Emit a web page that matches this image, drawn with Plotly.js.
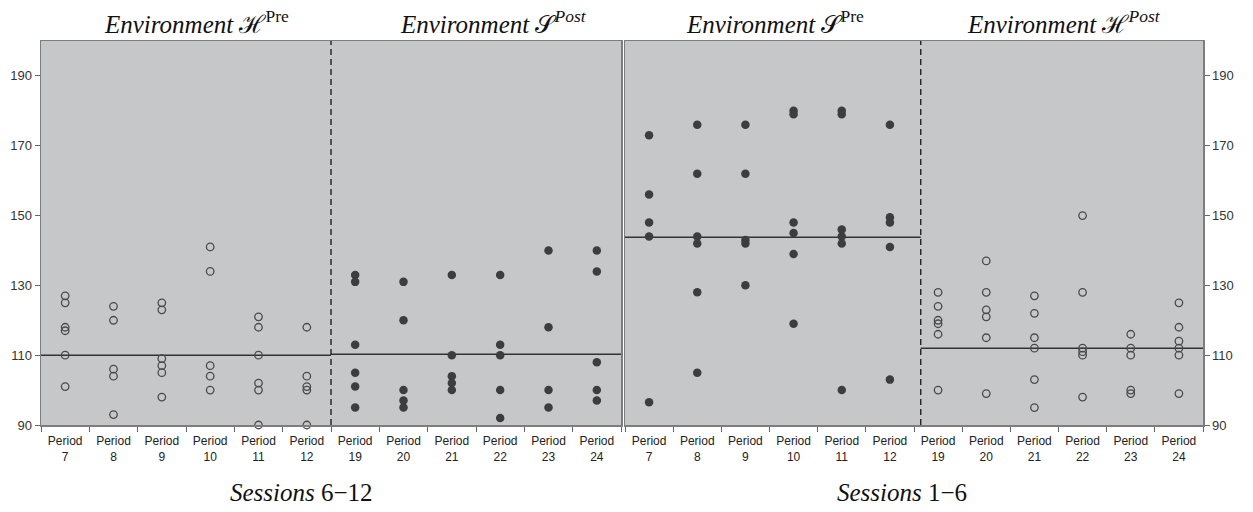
<!DOCTYPE html>
<html>
<head>
<meta charset="utf-8">
<script src="https://cdn.plot.ly/plotly-3.0.1.min.js"></script>
<style>html,body{margin:0;padding:0;background:#fff;}#chart{width:1253px;height:512px;}</style>
</head>
<body>
<div id="chart"></div>
<script>
// Categories (period numbers) for each half of a panel
const periodsPre = [7, 8, 9, 10, 11, 12];
const periodsPost = [19, 20, 21, 22, 23, 24];

// Sessions 6-12 (left panel)
const hPreLeft = [
  [127, 125, 118, 117, 110, 101],
  [124, 120, 106, 104, 93],
  [125, 123, 109, 107, 105, 98],
  [141, 134, 107, 104, 100],
  [121, 118, 110, 102, 100, 90],
  [118, 104, 101, 100, 90]
];
const sPostLeft = [
  [133, 131, 113, 105, 101, 95],
  [131, 120, 100, 97, 95],
  [133, 110, 104, 102, 100],
  [133, 113, 110, 100, 92],
  [140, 118, 100, 95],
  [140, 134, 108, 100, 97]
];
// Sessions 1-6 (right panel)
const sPreRight = [
  [173, 156, 148, 144, 96.5],
  [176, 162, 144, 142, 128, 105],
  [176, 162, 143, 142, 130],
  [180, 179, 148, 145, 139, 119],
  [180, 179, 146, 144, 142, 100],
  [176, 149.5, 148, 141, 103]
];
const hPostRight = [
  [128, 124, 120, 119, 116, 100],
  [137, 128, 123, 121, 115, 99],
  [127, 122, 115, 112, 103, 95],
  [150, 128, 112, 111, 110, 98],
  [116, 112, 110, 100, 99],
  [125, 118, 114, 112, 110, 99]
];
// Mean levels drawn as horizontal lines
const meanLeftPre = 110;
const meanLeftPost = 110.3;
const meanRightPre = 143.8;
const meanRightPost = 112;

const yTicks = [90, 110, 130, 150, 170, 190];

const allPeriods = periodsPre.concat(periodsPost);
const tickText = allPeriods.map(p => 'Period<br>' + p);
const tickVals = allPeriods.map((p, i) => i);

function pts(groups, offset) {
  const x = [], y = [];
  groups.forEach((g, i) => g.forEach(v => { x.push(i + offset); y.push(v); }));
  return {x, y};
}

const openMarker = {symbol: 'circle-open', size: 7.5, color: '#4a4a4a', line: {width: 1.3, color: '#4a4a4a'}};
const fillMarker = {symbol: 'circle', size: 8.5, color: '#3d3d3f', line: {width: 0}};
const lineStyle = {color: '#333', width: 1.5};

const a = pts(hPreLeft, 0), b = pts(sPostLeft, 6), c = pts(sPreRight, 0), d = pts(hPostRight, 6);
const splitR = 5.64;

const traces = [
  {x: [-0.5, 5.5], y: [meanLeftPre, meanLeftPre], mode: 'lines', line: lineStyle, xaxis: 'x', yaxis: 'y', hoverinfo: 'skip'},
  {x: [5.5, 11.5], y: [meanLeftPost, meanLeftPost], mode: 'lines', line: lineStyle, xaxis: 'x', yaxis: 'y', hoverinfo: 'skip'},
  {x: [-0.5, splitR], y: [meanRightPre, meanRightPre], mode: 'lines', line: lineStyle, xaxis: 'x2', yaxis: 'y2', hoverinfo: 'skip'},
  {x: [splitR, 11.5], y: [meanRightPost, meanRightPost], mode: 'lines', line: lineStyle, xaxis: 'x2', yaxis: 'y2', hoverinfo: 'skip'},
  {x: a.x, y: a.y, mode: 'markers', marker: openMarker, xaxis: 'x', yaxis: 'y', cliponaxis: false},
  {x: b.x, y: b.y, mode: 'markers', marker: fillMarker, xaxis: 'x', yaxis: 'y', cliponaxis: false},
  {x: c.x, y: c.y, mode: 'markers', marker: fillMarker, xaxis: 'x2', yaxis: 'y2', cliponaxis: false},
  {x: d.x, y: d.y, mode: 'markers', marker: openMarker, xaxis: 'x2', yaxis: 'y2', cliponaxis: false}
];

const sansFam = "Arial, 'Liberation Sans', Helvetica, sans-serif";
const serifFam = "'Times New Roman', 'Liberation Serif', Times, serif";

const xBase = {
  range: [-0.5, 11.5], tickmode: 'array', tickvals: tickVals, ticktext: tickText,
  ticks: '', showgrid: false, zeroline: false, showline: true, mirror: true,
  linecolor: '#7d7d7d', linewidth: 1.5,
  tickfont: {family: sansFam, size: 12, color: '#222'},
  minor: {tick0: -0.5, dtick: 1, ticks: 'outside', ticklen: 5, tickcolor: '#666', tickwidth: 1},
  ticklabelstandoff: 4
};
const yBase = {
  range: [90, 200], tickmode: 'array', tickvals: yTicks, ticks: 'outside', ticklen: 5,
  tickcolor: '#666', showgrid: false, zeroline: false, showline: true, mirror: true,
  linecolor: '#7d7d7d', linewidth: 1.5,
  tickfont: {family: sansFam, size: 13, color: '#333'}
};

const W = 1162, ML = 41;
const px = v => (v - ML) / W;
const titleFont = {family: serifFam, size: 25, color: '#111'};

function titleAnn(text, xpx) {
  return {text: text, xref: 'paper', yref: 'paper', x: px(xpx), y: 1.05, xanchor: 'center', yanchor: 'middle', showarrow: false, font: titleFont};
}

const layout = {
  width: 1253, height: 512,
  margin: {l: 41, r: 50, t: 41, b: 87},
  paper_bgcolor: '#fff', plot_bgcolor: '#c6c7c9',
  showlegend: false,
  xaxis: Object.assign({}, xBase, {domain: [0, px(621)], anchor: 'y'}),
  yaxis: Object.assign({}, yBase, {anchor: 'x', side: 'left'}),
  xaxis2: Object.assign({}, xBase, {domain: [px(625), 1], anchor: 'y2'}),
  yaxis2: Object.assign({}, yBase, {anchor: 'x2', side: 'right'}),
  shapes: [
    {type: 'line', xref: 'x', yref: 'y domain', x0: 5.5, x1: 5.5, y0: 0, y1: 1, line: {color: '#222', width: 1.4, dash: '6px,4px'}},
    {type: 'line', xref: 'x2', yref: 'y2 domain', x0: splitR, x1: splitR, y0: 0, y1: 1, line: {color: '#222', width: 1.4, dash: '6px,4px'}}
  ],
  annotations: [
    titleAnn('<i>Environment</i> ℋ<sup>Pre</sup>', 196),
    titleAnn('<i>Environment</i> 𝒮<sup><i>Post</i></sup>', 493),
    titleAnn('<i>Environment</i> 𝒮<sup>Pre</sup>', 775),
    titleAnn('<i>Environment</i> ℋ<sup><i>Post</i></sup>', 1064),
    {text: '<i>Sessions</i> 6−12', xref: 'paper', yref: 'paper', x: px(301), y: -0.175, xanchor: 'center', yanchor: 'middle', showarrow: false, font: titleFont},
    {text: '<i>Sessions</i> 1−6', xref: 'paper', yref: 'paper', x: px(902), y: -0.175, xanchor: 'center', yanchor: 'middle', showarrow: false, font: titleFont}
  ]
};

Plotly.newPlot('chart', traces, layout, {staticPlot: true, displayModeBar: false});
</script>
</body>
</html>
